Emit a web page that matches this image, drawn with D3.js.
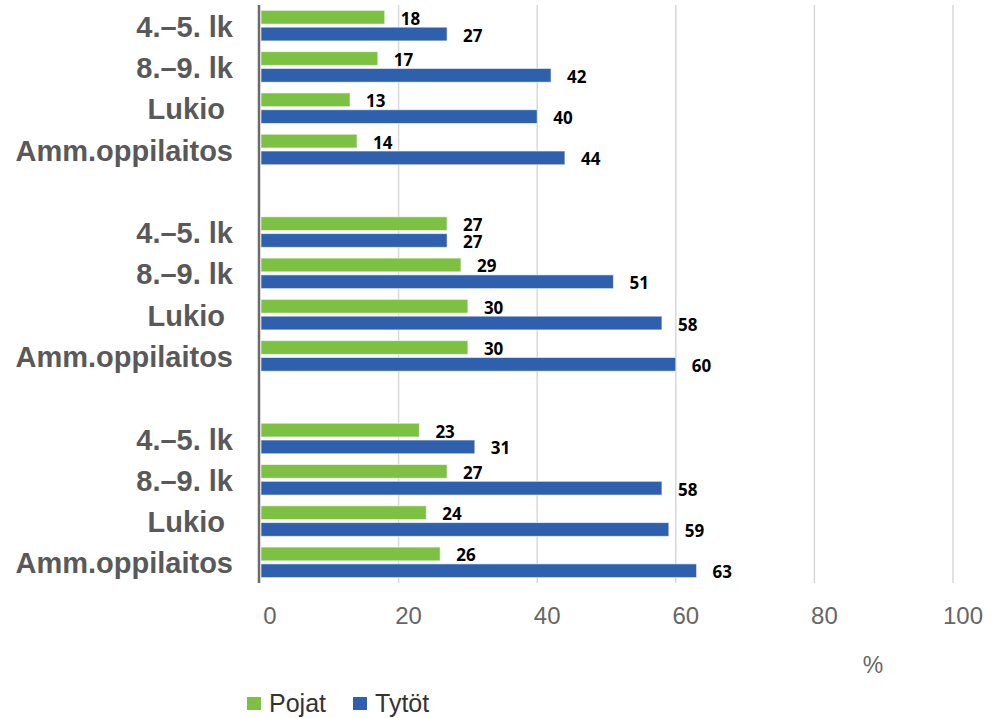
<!DOCTYPE html>
<html>
<head>
<meta charset="utf-8">
<script src="https://cdn.jsdelivr.net/npm/d3@7"></script>
<style>
  body { margin: 0; background: #fff; }
  svg { display: block; }
</style>
</head>
<body>
<div id="chart"></div>
<script>
// Data
const categories = ['4.–5. lk', '8.–9. lk', 'Lukio ', 'Amm.oppilaitos'];
const groups = ['g1', 'g2', 'g3'];
const series = ['Pojat', 'Tytöt'];
const pojat = [[18, 17, 13, 14], [27, 29, 30, 30], [23, 27, 24, 26]];
const tytot = [[27, 42, 40, 44], [27, 51, 58, 60], [31, 58, 59, 63]];
const xTicks = [0, 20, 40, 60, 80, 100];

const colors = { 'Pojat': '#7dc142', 'Tytöt': '#2e60ad' };

const W = 994, H = 718;
const svg = d3.select('#chart').append('svg').attr('width', W).attr('height', H);

// Rows: each group has 4 categories, with an empty slot between groups
const rows = [];
groups.forEach((g, gi) => {
    categories.forEach((c, ci) => {
        rows.push({ id: g + '-' + ci, label: c, values: { 'Pojat': pojat[gi][ci], 'Tytöt': tytot[gi][ci] } });
    });
    if (gi < groups.length - 1) rows.push({ id: 'gap' + gi, label: null });
});

const plotTop = 5, plotBottom = 583;
const x = d3.scaleLinear().domain([0, 100]).range([260, 953]);
const y = d3.scaleBand().domain(rows.map(r => r.id)).range([plotTop, plotBottom]);
const inner = d3.scaleBand().domain(series)
    .range([y.step() * 0.13, y.step() * 0.87]).paddingInner(0.18);

// Gridlines
svg.append('g').selectAll('line')
    .data(xTicks.filter(t => t > 0))
    .join('line')
    .attr('x1', d => x(d)).attr('x2', d => x(d))
    .attr('y1', plotTop).attr('y2', plotBottom)
    .attr('stroke', '#d9d9d9')
    .attr('stroke-width', 1.5);

// Bars
const dataRows = rows.filter(r => r.label !== null);
const rowG = svg.append('g').selectAll('g')
    .data(dataRows)
    .join('g')
    .attr('transform', d => `translate(0,${y(d.id)})`);

rowG.selectAll('rect')
    .data(d => series.map(s => ({ s, v: d.values[s] })))
    .join('rect')
    .attr('x', x(0) + 1)
    .attr('y', d => inner(d.s))
    .attr('width', d => x(d.v) - x(0) - 1)
    .attr('height', inner.bandwidth())
    .attr('fill', d => colors[d.s])
    .attr('stroke', '#ffffff')
    .attr('stroke-opacity', 0.6)
    .attr('stroke-width', 1);

// Value labels
rowG.selectAll('text')
    .data(d => series.map(s => ({ s, v: d.values[s] })))
    .join('text')
    .attr('x', d => x(d.v) + 16)
    .attr('y', d => inner(d.s) + inner.bandwidth() / 2 + 1)
    .attr('dominant-baseline', 'central')
    .attr('font-family', '"Open Sans", sans-serif')
    .attr('font-weight', 700)
    .attr('font-size', '17px')
    .attr('fill', '#000')
    .text(d => d.v);

// Category labels
svg.append('g').selectAll('text')
    .data(dataRows)
    .join('text')
    .attr('x', 233)
    .attr('y', d => y(d.id) + y.bandwidth() / 2 + 1)
    .attr('text-anchor', 'end')
    .attr('dominant-baseline', 'central')
    .attr('font-family', '"Liberation Sans", Arial, sans-serif')
    .attr('font-weight', 700)
    .attr('font-size', '29px')
    .attr('fill', '#595959')
    .style('white-space', 'pre')
    .text(d => d.label);

// Vertical axis line
svg.append('line')
    .attr('x1', x(0) - 1).attr('x2', x(0) - 1)
    .attr('y1', plotTop).attr('y2', plotBottom)
    .attr('stroke', '#6b6b6b')
    .attr('stroke-width', 2.5);

// X tick labels
svg.append('g').selectAll('text')
    .data(xTicks)
    .join('text')
    .attr('x', d => x(d) + 10)
    .attr('y', 615)
    .attr('text-anchor', 'middle')
    .attr('dominant-baseline', 'central')
    .attr('font-family', '"Liberation Sans", Arial, sans-serif')
    .attr('font-size', '24px')
    .attr('fill', '#666')
    .text(d => d);

// Unit label
svg.append('text')
    .attr('x', 873).attr('y', 665)
    .attr('text-anchor', 'middle')
    .attr('dominant-baseline', 'central')
    .attr('font-family', '"Liberation Sans", Arial, sans-serif')
    .attr('font-size', '23px')
    .attr('fill', '#666')
    .text('%');

// Legend
const legendX = [247, 353];
series.forEach((s, i) => {
    svg.append('rect')
        .attr('x', legendX[i]).attr('y', 697)
        .attr('width', 14).attr('height', 13)
        .attr('fill', colors[s]);
    svg.append('text')
        .attr('x', legendX[i] + 22).attr('y', 703)
        .attr('dominant-baseline', 'central')
        .attr('font-family', '"Liberation Sans", Arial, sans-serif')
        .attr('font-size', '25px')
        .attr('fill', '#333')
        .text(s);
});
</script>
</body>
</html>
